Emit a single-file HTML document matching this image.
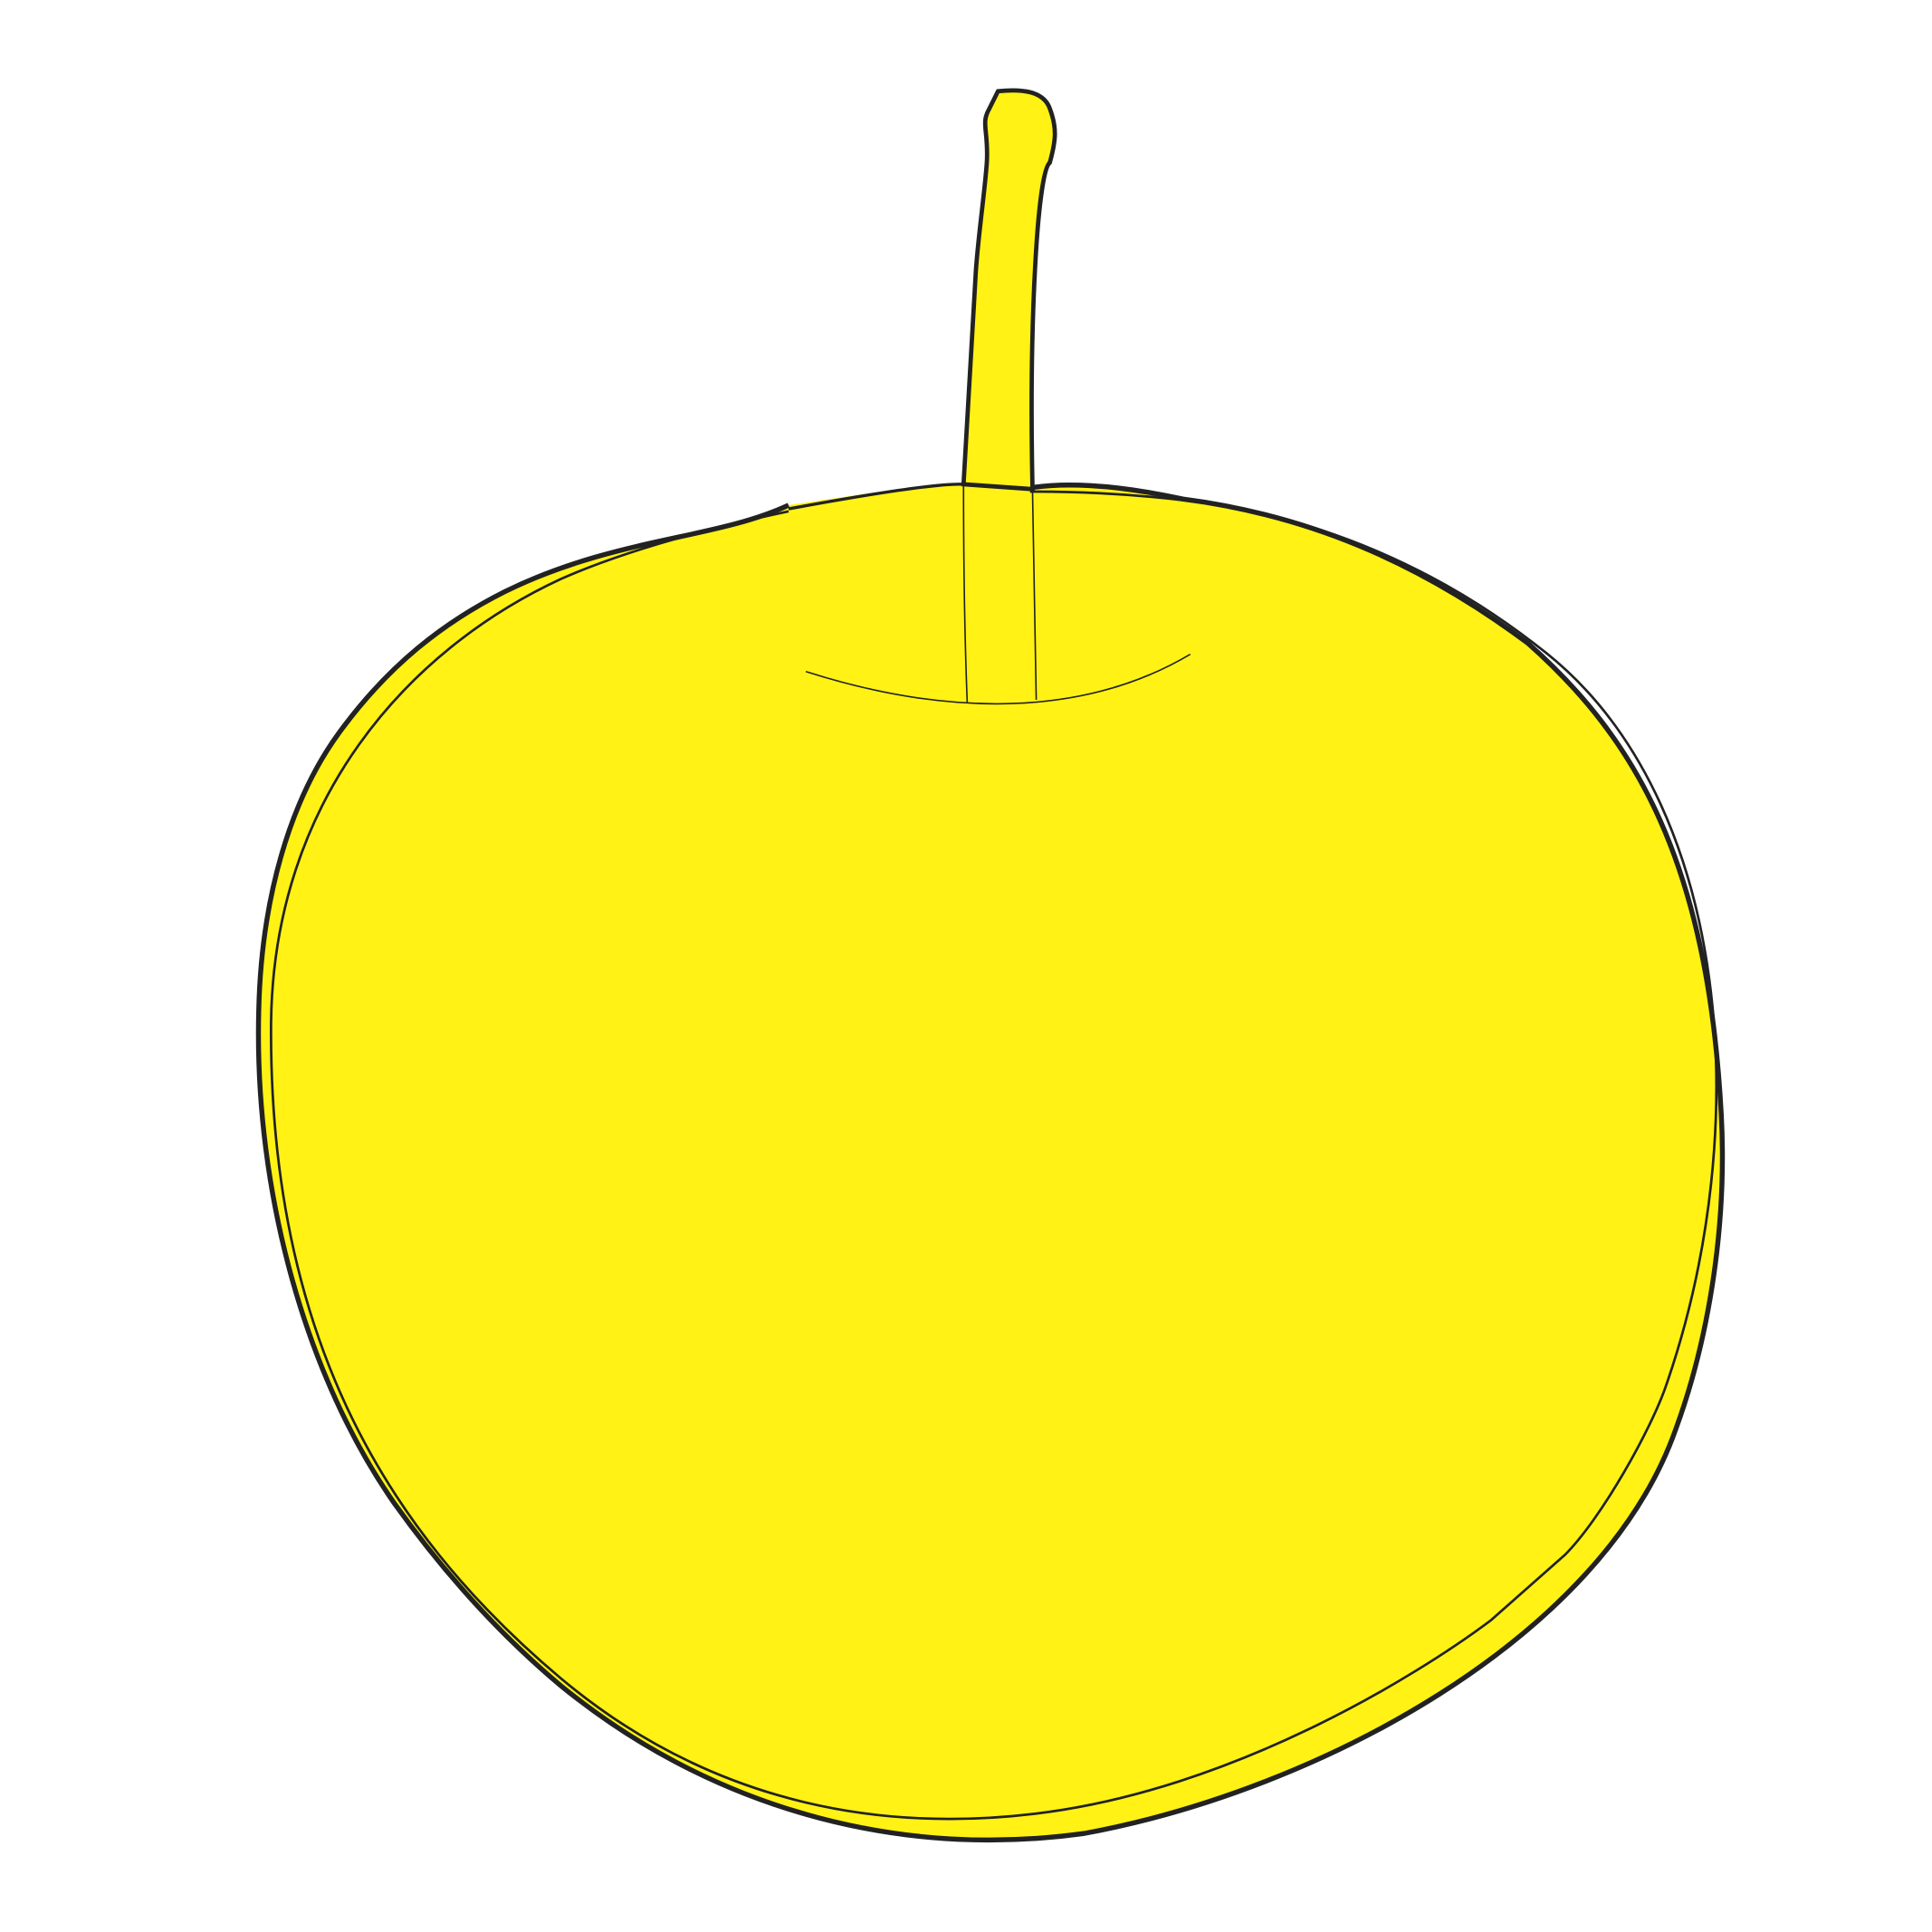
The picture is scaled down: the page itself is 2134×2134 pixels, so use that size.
<!DOCTYPE html>
<html><head><meta charset="utf-8"><style>
html,body{margin:0;padding:0;background:#fff;}
svg{display:block;}
</style></head><body>
<svg width="2134" height="2134" viewBox="0 0 1568 1568" xmlns="http://www.w3.org/2000/svg">
<g>
<path fill="#FFF214" d="M640,410 C580,438 500,436 410,480 C360,505 315,540 275,595 C235,650 212,730 210,820 C206,970 250,1120 320,1220 C360,1276 405,1326 455,1368 C570,1462 720,1510 880,1488 C1070,1453 1300,1330 1360,1160 C1385,1092 1402,1000 1397,905 C1386,700 1328,600 1240,522 C1150,455 1060,418 960,405 C900,392 860,392 836,396 L782,392 C760,392 720,398 640,410 Z"/>
<path fill="none" stroke="#222" stroke-width="4" d="M640,410 C580,438 500,436 410,480 C360,505 315,540 275,595 C235,650 212,730 210,820 C206,970 250,1120 320,1220 C360,1276 405,1326 455,1368 C570,1462 720,1510 880,1488 C1070,1453 1300,1330 1360,1160 C1385,1092 1402,1000 1397,905 C1386,700 1328,600 1240,522 C1150,455 1060,418 960,405 C900,392 860,392 836,396"/>
<path fill="none" stroke="#222" stroke-width="2" d="M640,415 C560,432 500,450 455,470 C330,528 222,650 220,830 C218,1080 310,1240 455,1362 C560,1450 690,1490 840,1472 C1000,1453 1150,1360 1210,1315 L1270,1262 C1300,1232 1340,1160 1352,1125 C1425,915 1405,650 1255,530 C1170,462 1070,418 960,406 C910,400 870,399 836,399"/>
<path fill="none" stroke="#222" stroke-width="2.5" d="M640,413 C700,402 760,392 782,393"/>
</g>
<g>
<path fill="#FFF214" stroke="#222" stroke-width="3.5" d="M782,393 L792,220 C794,190 800,150 801,130 C802,105 796,100 803,88 L810,74 C830,72 847,74 852,88 C858,104 857,114 852,132 C842,140 835,260 838,397 Z"/>
<path fill="none" stroke="#222" stroke-width="1.2" d="M782,393 C782,460 783,520 785,570"/>
<path fill="none" stroke="#222" stroke-width="1.2" d="M838,399 L841,568"/>
</g>
<path fill="none" stroke="#222" stroke-width="1.2" d="M654,545 C770,582 880,582 966,531"/>
</svg>
</body></html>
